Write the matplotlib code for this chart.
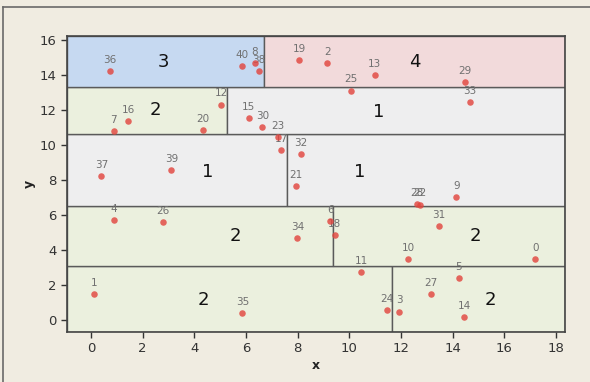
import matplotlib
matplotlib.use("Agg")
import matplotlib.pyplot as plt
from matplotlib.patches import Rectangle
from matplotlib.lines import Line2D

# ---- data ----
point_ids = [0, 1, 2, 3, 4, 5, 6, 7, 8, 9, 10, 11, 12, 13, 14, 15, 16, 17, 18, 19, 20,
             21, 22, 23, 24, 25, 26, 27, 28, 29, 30, 31, 32, 33, 34, 35, 36, 37, 38, 39, 40]
point_x = [17.2, 0.13, 9.15, 11.93, 0.88, 14.24, 9.26, 0.88, 6.33, 14.14, 12.29, 10.46, 5.04,
           10.99, 14.45, 6.11, 1.44, 7.37, 9.44, 8.05, 4.33, 7.93, 12.72, 7.22, 11.45, 10.07,
           2.78, 13.15, 12.62, 14.47, 6.63, 13.47, 8.14, 14.66, 7.99, 5.86, 0.72, 0.40, 6.51,
           3.11, 5.86]
point_y = [3.50, 1.47, 14.69, 0.48, 5.70, 2.38, 5.66, 10.80, 14.72, 7.03, 3.50, 2.76, 12.32,
           14.00, 0.17, 11.54, 11.37, 9.73, 4.86, 14.88, 10.88, 7.66, 6.60, 10.46, 0.59, 13.12,
           5.58, 1.49, 6.65, 13.62, 11.05, 5.35, 9.47, 12.47, 4.69, 0.40, 14.25, 8.23, 14.25,
           8.55, 14.51]

x_limits = (-0.92, 18.35)
y_limits = (-0.67, 16.27)

# horizontal splits (bottom to top) and vertical split within each band
band_edges = [y_limits[0], 3.07, 6.53, 10.63, 13.33, y_limits[1]]
band_splits = [11.64, 9.36, 7.58, 5.26, 6.70]
# region labels (left, right) per band and their fill kinds
region_labels = [("2", "2"), ("2", "2"), ("1", "1"), ("2", "1"), ("3", "4")]
region_kinds = [("g", "g"), ("g", "g"), ("n", "n"), ("g", "n"), ("b", "p")]
# label positions (x, y) for left / right region in each band
label_pos = [((4.35, 1.14), (15.45, 1.14)),
             ((5.59, 4.80), (14.90, 4.80)),
             ((4.50, 8.46), (10.42, 8.46)),
             ((2.50, 12.00), (11.12, 11.90)),
             ((2.80, 14.74), (12.55, 14.74))]

x_ticks = list(range(0, 19, 2))
y_ticks = list(range(0, 17, 2))

fill_colors = {"g": "#ebf0de", "n": "#eeeeef", "b": "#c6d9f1", "p": "#f2dadb"}

fig = plt.figure(figsize=(5.9, 3.82), dpi=100, facecolor="#f0ece1")
ax = fig.add_axes([0.114, 0.1317, 0.8436, 0.7753])
ax.set_xlim(*x_limits)
ax.set_ylim(*y_limits)

for i in range(len(band_splits)):
    y0, y1 = band_edges[i], band_edges[i + 1]
    xs = band_splits[i]
    kl, kr = region_kinds[i]
    ax.add_patch(Rectangle((x_limits[0], y0), xs - x_limits[0], y1 - y0,
                           facecolor=fill_colors[kl], edgecolor="#5a5a5a", lw=1.0, zorder=1))
    ax.add_patch(Rectangle((xs, y0), x_limits[1] - xs, y1 - y0,
                           facecolor=fill_colors[kr], edgecolor="#5a5a5a", lw=1.0, zorder=1))
    (lx, ly), (rx, ry) = label_pos[i]
    ax.text(lx, ly, region_labels[i][0], fontsize=13, ha="center", va="center",
            color="#111111", zorder=5)
    ax.text(rx, ry, region_labels[i][1], fontsize=13, ha="center", va="center",
            color="#111111", zorder=5)

for pid, px, py in zip(point_ids, point_x, point_y):
    ax.annotate(str(pid), (px, py), xytext=(0, 8), textcoords="offset points",
                ha="center", va="center", fontsize=7.5, color="#707070", zorder=3)

ax.scatter(point_x, point_y, s=22, color="#e2463f", alpha=0.82, linewidths=0, zorder=4)

ax.set_xticks(x_ticks)
ax.set_yticks(y_ticks)
ax.tick_params(axis="both", direction="out", length=4, width=1, colors="#333333",
               labelsize=9.5, labelcolor="#333333")
for sp in ax.spines.values():
    sp.set_color("#444444")
    sp.set_linewidth(1.2)
    sp.set_zorder(6)

ax.set_xlabel("x", fontsize=9, fontweight="bold", color="#222222", labelpad=2.5)
ax.set_ylabel("y", fontsize=9, fontweight="bold", color="#222222", labelpad=3)

# outer figure frame lines (top and left)
fig.add_artist(Line2D([3 / 590, 1], [1 - 7 / 382, 1 - 7 / 382], color="#6a6a6a", lw=1.2,
                      transform=fig.transFigure))
fig.add_artist(Line2D([3 / 590, 3 / 590], [0, 1 - 7 / 382], color="#6a6a6a", lw=1.2,
                      transform=fig.transFigure))

fig.savefig("out.png", dpi=100, facecolor=fig.get_facecolor())
